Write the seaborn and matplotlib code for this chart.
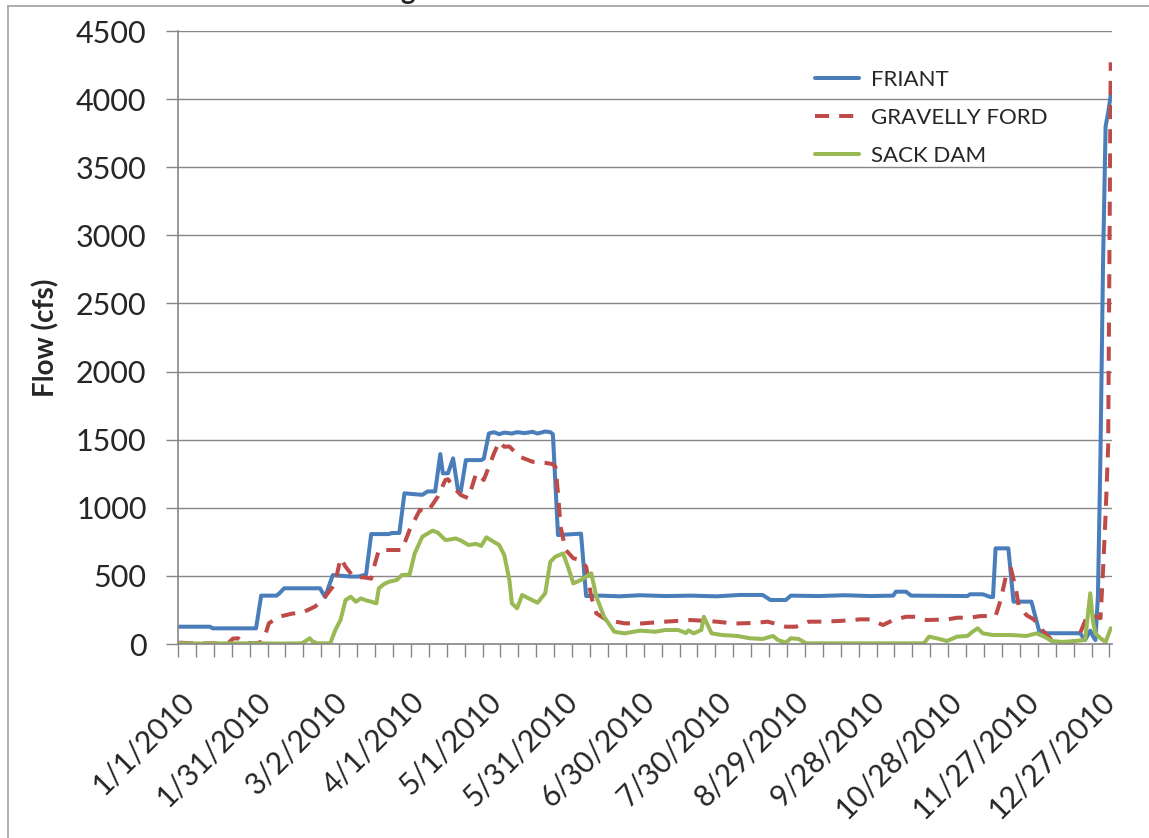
import numpy as np
import pandas as pd
import matplotlib.pyplot as plt
import seaborn as sns
from matplotlib.lines import Line2D

# -------------------------------------------------------------------------
# DATA  (day index from 1/1/2010, flow in cfs)
# -------------------------------------------------------------------------
friant_day = [0, 12, 13, 30, 32, 38, 39, 41, 55, 57, 58, 60, 67, 70, 72, 73, 75,
              82, 83, 86, 88, 95, 97, 100, 102, 103, 105, 107, 109, 110, 112,
              118, 119, 121, 123, 125, 127, 130, 132, 135, 138, 140, 143, 145,
              146, 148, 157, 159, 165, 172, 180, 190, 200, 210, 219, 228, 231,
              237, 239, 250, 260, 270, 279, 280, 284, 286, 308, 309, 314, 317,
              318, 319, 324, 326, 333, 336, 339, 352, 354, 356, 357, 358, 359,
              360, 361, 362, 363, 364]
friant_cfs = [127, 127, 115, 115, 355, 355, 370, 409, 409, 345, 400, 506, 495,
              495, 505, 510, 807, 807, 815, 815, 1106, 1095, 1120, 1120, 1394,
              1253, 1253, 1363, 1118, 1118, 1350, 1350, 1360, 1546, 1555, 1540,
              1552, 1545, 1555, 1548, 1558, 1545, 1560, 1555, 1540, 800, 810,
              352, 355, 350, 358, 352, 355, 350, 360, 360, 323, 323, 355, 352,
              358, 352, 355, 384, 384, 355, 352, 365, 365, 345, 345, 702, 702,
              311, 311, 98, 79, 79, 29, 98, 60, 29, 350, 1400, 2800, 3800,
              3900, 4030]

gravelly_day = [0, 5, 19, 21, 23, 25, 30, 32, 33, 35, 39, 44, 48, 53, 56, 60,
                61, 63, 65, 68, 73, 75, 76, 78, 87, 90, 94, 97, 101, 104, 105,
                107, 110, 113, 116, 119, 123, 125, 127, 129, 133, 138, 143, 146,
                147, 148, 149, 151, 154, 157, 159, 161, 163, 167, 174, 180, 190,
                200, 210, 217, 225, 230, 237, 241, 246, 250, 258, 266, 270, 275,
                279, 284, 288, 292, 300, 304, 309, 313, 319, 321, 323, 325, 327,
                328, 331, 334, 336, 339, 341, 345, 349, 352, 355, 358, 360, 361,
                362, 363, 364]
gravelly_cfs = [10, 5, 5, 40, 42, 10, 5, 15, 30, 152, 200, 223, 230, 274, 323,
                421, 457, 629, 567, 494, 487, 480, 560, 690, 690, 837, 984, 970,
                1081, 1204, 1210, 1155, 1094, 1070, 1253, 1204, 1400, 1485, 1448,
                1450, 1375, 1338, 1330, 1320, 1301, 1106, 861, 690, 629, 617, 567,
                347, 225, 176, 152, 150, 164, 176, 164, 150, 155, 164, 127, 127,
                164, 164, 169, 181, 181, 139, 176, 200, 200, 176, 180, 193, 193,
                205, 205, 323, 494, 555, 396, 286, 213, 180, 127, 66, 29, 10, 10,
                78, 215, 200, 190, 540, 950, 1450, 4270]

sack_day = [0, 10, 20, 30, 40, 48, 50, 51, 52, 54, 59, 61, 63, 65, 67, 69, 71,
            73, 75, 77, 78, 80, 82, 85, 87, 90, 92, 95, 99, 101, 104, 106, 108,
            110, 113, 116, 118, 120, 122, 125, 127, 129, 130, 132, 134, 136, 140,
            143, 145, 147, 150, 152, 154, 157, 161, 163, 166, 170, 174, 180, 186,
            190, 195, 198, 199, 201, 204, 205, 208, 212, 218, 223, 228, 232, 234,
            237, 239, 242, 245, 291, 293, 296, 300, 304, 308, 310, 312, 314, 318,
            325, 331, 335, 338, 341, 345, 350, 354, 356, 357, 358, 360, 362, 364]
sack_cfs = [5, 3, 5, 5, 3, 5, 30, 42, 20, 5, 5, 103, 176, 323, 347, 310, 335,
            320, 311, 298, 409, 440, 457, 470, 506, 510, 665, 788, 832, 818, 763,
            768, 775, 760, 727, 735, 720, 783, 760, 727, 653, 470, 298, 262, 360,
            340, 303, 372, 604, 641, 665, 560, 445, 470, 519, 347, 200, 90, 78,
            98, 90, 103, 103, 80, 100, 78, 103, 200, 78, 66, 59, 42, 37, 59, 29,
            10, 42, 37, 5, 5, 54, 42, 22, 54, 59, 90, 115, 78, 66, 66, 59, 78,
            54, 22, 15, 22, 30, 372, 176, 78, 42, 15, 115]

stations = ["FRIANT", "GRAVELLY FORD", "SACK DAM"]
colors = ["#4A7EBB", "#BE4B48", "#98B954"]

label_days = [0, 30, 60, 90, 120, 150, 180, 210, 240, 270, 300, 330, 360]
tick_labels = ["1/1/2010", "1/31/2010", "3/2/2010", "4/1/2010", "5/1/2010",
               "5/31/2010", "6/30/2010", "7/30/2010", "8/29/2010", "9/28/2010",
               "10/28/2010", "11/27/2010", "12/27/2010"]
y_ticks = [0, 500, 1000, 1500, 2000, 2500, 3000, 3500, 4000, 4500]

df = pd.concat([
    pd.DataFrame({"day": friant_day, "flow": friant_cfs, "station": stations[0]}),
    pd.DataFrame({"day": gravelly_day, "flow": gravelly_cfs, "station": stations[1]}),
    pd.DataFrame({"day": sack_day, "flow": sack_cfs, "station": stations[2]}),
], ignore_index=True)

# -------------------------------------------------------------------------
# PLOT
# -------------------------------------------------------------------------
sns.set_theme(style="white")
plt.rcParams["font.family"] = ["Lato", "DejaVu Sans"]

GRAY = "#868686"
fig = plt.figure(figsize=(11.49, 8.38), dpi=100)
ax = fig.add_axes([178 / 1149, 1 - 644 / 838, (1112 - 178) / 1149, (644 - 31) / 838])

sns.lineplot(
    data=df, x="day", y="flow", hue="station", style="station",
    hue_order=stations, style_order=stations,
    palette=dict(zip(stations, colors)),
    dashes={"FRIANT": "", "GRAVELLY FORD": (3.5, 2.5), "SACK DAM": ""},
    linewidth=2.9, estimator=None, ax=ax,
)

ax.set_xlim(-0.5, 364.5)
ax.set_ylim(0, 4500)
ax.set_yticks(y_ticks)
ax.yaxis.grid(True, color=GRAY, linewidth=1.0)
ax.set_axisbelow(True)

# weekly tick marks, labels every 30 days (Excel category axis look)
ax.set_xticks(np.arange(-0.5, 364, 7))
ax.set_xticklabels([])
ax.set_xticks(label_days, labels=tick_labels, minor=True)
ax.tick_params(axis="x", which="major", length=9.5, width=1, color=GRAY, direction="out", bottom=True)
ax.tick_params(axis="x", which="minor", length=0, pad=31, labelsize=21.5)
for lab in ax.get_xticklabels(minor=True):
    lab.set_rotation(45)
    lab.set_ha("right")
    lab.set_va("top")
    lab.set_rotation_mode("anchor")
ax.tick_params(axis="y", length=8.6, width=1, color=GRAY, direction="out", left=True,
               pad=14, labelsize=22)

for side in ["top", "right"]:
    ax.spines[side].set_visible(False)
for side in ["left", "bottom"]:
    ax.spines[side].set_color(GRAY)
    ax.spines[side].set_linewidth(1.2)

ax.set_xlabel("")
ax.set_ylabel("Flow (cfs)", fontsize=20, fontweight="bold")
ax.yaxis.set_label_coords(-0.127, 0.5)

handles, labels = ax.get_legend_handles_labels()
for h in handles:
    h.set_linewidth(2.9)
ax.legend(handles, labels, loc="upper left", bbox_to_anchor=(0.682, 0.937),
          frameon=False, fontsize=16, handlelength=2.0, handletextpad=0.5,
          labelspacing=0.82, borderaxespad=0, borderpad=0)

# outer chart-area frame and the cut-off title descender
fig.add_artist(Line2D([7.5 / 1149, 7.5 / 1149], [0, 1 - 6.5 / 838], color="#A6A6A6", lw=1.3))
fig.add_artist(Line2D([7.5 / 1149, 1], [1 - 6.5 / 838, 1 - 6.5 / 838], color="#A6A6A6", lw=1.3))
fig.text(400 / 1149, 1 + 1 / 838, "g", fontsize=20, fontweight="bold", va="baseline")

plt.savefig("out.png", dpi=100)
